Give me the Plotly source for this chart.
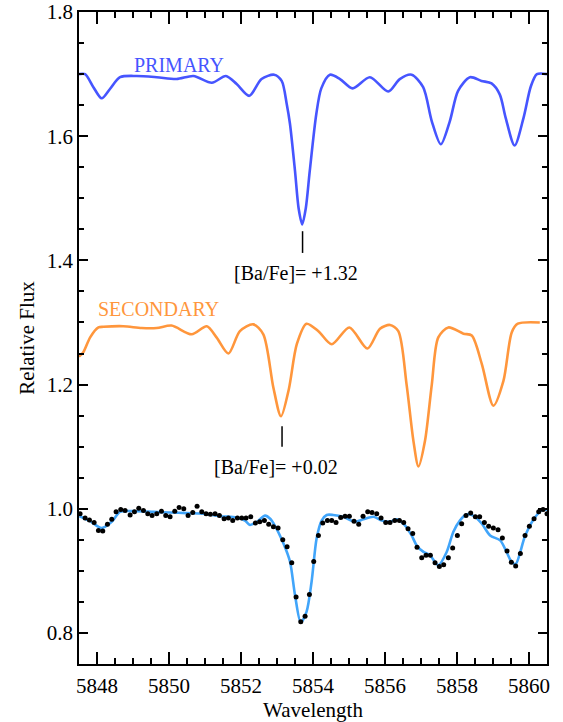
import plotly.graph_objects as go

# ---------------- data ----------------
prim_x = [5847.50, 5847.67, 5847.90, 5848.13, 5848.36, 5848.64, 5849.10, 5849.66, 5850.21, 5850.68,
          5851.19, 5851.58, 5851.88, 5852.23, 5852.57, 5852.92, 5853.13, 5853.27, 5853.36, 5853.50,
          5853.60, 5853.70, 5853.80, 5853.91, 5854.09, 5854.23, 5854.47, 5854.75, 5855.10, 5855.58,
          5856.09, 5856.41, 5856.74, 5857.06, 5857.30, 5857.55, 5857.80, 5858.03, 5858.36, 5858.68,
          5858.96, 5859.19, 5859.35, 5859.60, 5859.85, 5860.05, 5860.22, 5860.50]
prim_y = [1.700, 1.700, 1.679, 1.661, 1.676, 1.695, 1.697, 1.695, 1.692, 1.697,
          1.686, 1.697, 1.684, 1.665, 1.692, 1.699, 1.689, 1.652, 1.620, 1.544,
          1.484, 1.458, 1.484, 1.544, 1.635, 1.677, 1.699, 1.692, 1.677, 1.695,
          1.672, 1.692, 1.699, 1.679, 1.624, 1.587, 1.624, 1.673, 1.695, 1.689,
          1.685, 1.667, 1.630, 1.585, 1.630, 1.680, 1.700, 1.700]

sec_x = [5847.50, 5847.62, 5847.81, 5848.04, 5848.18, 5848.73, 5849.24, 5849.66, 5850.07, 5850.63,
         5851.05, 5851.32, 5851.65, 5851.97, 5852.34, 5852.62, 5852.90, 5853.11, 5853.33, 5853.55,
         5853.82, 5854.15, 5854.52, 5855.01, 5855.51, 5855.86, 5856.14, 5856.37, 5856.60, 5856.79,
         5856.93, 5857.11, 5857.30, 5857.48, 5857.76, 5858.18, 5858.41, 5858.69, 5859.01, 5859.29,
         5859.52, 5859.69, 5860.30]
sec_y = [1.245, 1.252, 1.276, 1.292, 1.293, 1.294, 1.291, 1.291, 1.295, 1.281,
         1.294, 1.276, 1.250, 1.286, 1.297, 1.281, 1.195, 1.149, 1.193, 1.265,
         1.298, 1.286, 1.265, 1.292, 1.258, 1.290, 1.296, 1.286, 1.200, 1.109,
         1.068, 1.109, 1.200, 1.276, 1.292, 1.282, 1.279, 1.233, 1.166, 1.206,
         1.284, 1.298, 1.300]

fit_x = [5847.51, 5847.81, 5848.13, 5848.41, 5848.64, 5849.10, 5849.56, 5850.03, 5850.49, 5850.95,
         5851.42, 5851.88, 5852.11, 5852.25, 5852.44, 5852.67, 5852.81, 5852.94, 5853.18, 5853.36,
         5853.50, 5853.66, 5853.82, 5853.96, 5854.10, 5854.24, 5854.38, 5854.56, 5854.84, 5855.17,
         5855.40, 5855.68, 5855.91, 5856.14, 5856.32, 5856.56, 5856.74, 5856.88, 5857.06, 5857.25,
         5857.48, 5857.71, 5857.90, 5858.08, 5858.27, 5858.45, 5858.69, 5858.92, 5859.20, 5859.38,
         5859.52, 5859.63, 5859.89, 5860.14, 5860.39, 5860.50]
fit_y = [0.988, 0.980, 0.969, 0.979, 0.995, 0.996, 0.995, 0.994, 0.993, 0.992,
         0.988, 0.986, 0.981, 0.974, 0.979, 0.989, 0.984, 0.973, 0.944, 0.915,
         0.861, 0.817, 0.834, 0.882, 0.952, 0.981, 0.990, 0.990, 0.987, 0.979,
         0.983, 0.987, 0.981, 0.979, 0.983, 0.973, 0.957, 0.941, 0.931, 0.925,
         0.909, 0.930, 0.963, 0.981, 0.991, 0.989, 0.976, 0.957, 0.949, 0.930,
         0.914, 0.911, 0.956, 0.984, 0.999, 0.998]

obs_x = [5847.53, 5847.67, 5847.79, 5847.92, 5848.04, 5848.16, 5848.29, 5848.41, 5848.53, 5848.66,
         5848.78, 5848.92, 5849.04, 5849.16, 5849.29, 5849.41, 5849.53, 5849.66, 5849.79, 5849.91,
         5850.03, 5850.16, 5850.28, 5850.41, 5850.53, 5850.66, 5850.78, 5850.91, 5851.03, 5851.15,
         5851.28, 5851.40, 5851.53, 5851.65, 5851.77, 5851.90, 5852.02, 5852.14, 5852.27, 5852.40,
         5852.52, 5852.65, 5852.77, 5852.90, 5853.03, 5853.16, 5853.28, 5853.41, 5853.53, 5853.66,
         5853.78, 5853.90, 5854.02, 5854.15, 5854.27, 5854.40, 5854.52, 5854.64, 5854.77, 5854.89,
         5855.01, 5855.14, 5855.27, 5855.39, 5855.52, 5855.64, 5855.77, 5855.89, 5856.02, 5856.14,
         5856.27, 5856.40, 5856.52, 5856.64, 5856.77, 5856.89, 5857.02, 5857.14, 5857.26, 5857.39,
         5857.51, 5857.63, 5857.76, 5857.88, 5858.01, 5858.13, 5858.25, 5858.38, 5858.51, 5858.63,
         5858.76, 5858.88, 5859.01, 5859.14, 5859.26, 5859.39, 5859.51, 5859.63, 5859.76, 5859.89,
         5860.01, 5860.14, 5860.27, 5860.39, 5860.50]
obs_y = [0.992, 0.985, 0.982, 0.978, 0.965, 0.964, 0.975, 0.983, 0.995, 0.999,
         0.997, 0.990, 0.995, 1.001, 0.997, 0.992, 0.989, 0.992, 0.996, 0.989,
         0.987, 0.996, 1.002, 1.000, 0.989, 0.994, 1.004, 0.995, 0.992, 0.991,
         0.992, 0.989, 0.984, 0.985, 0.981, 0.985, 0.985, 0.985, 0.987, 0.977,
         0.979, 0.981, 0.975, 0.971, 0.969, 0.950, 0.939, 0.913, 0.858, 0.818,
         0.827, 0.862, 0.915, 0.957, 0.977, 0.981, 0.981, 0.978, 0.986, 0.988,
         0.988, 0.980, 0.975, 0.988, 0.995, 0.994, 0.992, 0.985, 0.978, 0.978,
         0.981, 0.981, 0.978, 0.968, 0.960, 0.938, 0.921, 0.925, 0.925, 0.913,
         0.907, 0.910, 0.921, 0.937, 0.957, 0.976, 0.989, 0.993, 0.987, 0.987,
         0.978, 0.972, 0.969, 0.966, 0.953, 0.932, 0.914, 0.908, 0.928, 0.957,
         0.972, 0.984, 0.995, 0.999, 0.992]

# labels
star_labels = ["PRIMARY", "SECONDARY"]
star_label_x = [5850.28, 5849.70]
star_label_y = [1.714, 1.322]

ba_labels = ["[Ba/Fe]= +1.32", "[Ba/Fe]= +0.02"]
ba_tick_x = [5853.71, 5853.14]
ba_tick_y0 = [1.447, 1.133]
ba_tick_y1 = [1.412, 1.100]
ba_text_x = [5853.53, 5852.97]
ba_text_y = [1.380, 1.068]

# ---------------- styling ----------------
C_PRIM = "rgb(70,85,255)"
C_SEC = "rgb(255,150,60)"
C_FIT = "rgb(65,165,250)"
FONT = "'Liberation Serif', 'Times New Roman', 'DejaVu Serif', serif"

fig = go.Figure()
fig.add_trace(go.Scatter(x=prim_x, y=prim_y, mode="lines",
                         line=dict(color=C_PRIM, width=2.6, shape="spline", smoothing=0.8),
                         hoverinfo="skip"))
fig.add_trace(go.Scatter(x=sec_x, y=sec_y, mode="lines",
                         line=dict(color=C_SEC, width=2.6, shape="spline", smoothing=0.8),
                         hoverinfo="skip"))
fig.add_trace(go.Scatter(x=fit_x, y=fit_y, mode="lines",
                         line=dict(color=C_FIT, width=2.6, shape="spline", smoothing=0.8),
                         hoverinfo="skip"))
fig.add_trace(go.Scatter(x=obs_x, y=obs_y, mode="markers",
                         marker=dict(color="black", size=5, line=dict(width=0)),
                         hoverinfo="skip"))

for i in range(len(ba_labels)):
    fig.add_trace(go.Scatter(x=[ba_tick_x[i], ba_tick_x[i]], y=[ba_tick_y0[i], ba_tick_y1[i]],
                             mode="lines", line=dict(color="black", width=1.5), hoverinfo="skip"))
    fig.add_annotation(x=ba_text_x[i], y=ba_text_y[i], text=ba_labels[i], showarrow=False,
                       xref="x", yref="y", xanchor="center", yanchor="middle",
                       font=dict(family=FONT, size=20, color="black"))

for i, (lab, col) in enumerate(zip(star_labels, [C_PRIM, C_SEC])):
    fig.add_annotation(x=star_label_x[i], y=star_label_y[i], text=lab, showarrow=False,
                       xref="x", yref="y", xanchor="center", yanchor="middle",
                       font=dict(family=FONT, size=20, color=col))

axis_common = dict(showline=True, linecolor="black", linewidth=1.5, mirror="allticks",
                   ticks="inside", tickcolor="black", tickwidth=1.5, showgrid=False,
                   zeroline=False, automargin=False,
                   tickfont=dict(family=FONT, size=21, color="black"))

fig.update_xaxes(range=[5847.5, 5860.5], tick0=5848, dtick=2, ticklen=12,
                 ticklabelstandoff=2,
                 minor=dict(dtick=0.5, ticklen=6, ticks="inside", tickcolor="black", tickwidth=1.5),
                 title=dict(text="Wavelength", font=dict(family=FONT, size=21, color="black"), standoff=6),
                 **axis_common)
fig.update_yaxes(range=[0.75, 1.8], tick0=0.8, dtick=0.2, tickformat=".1f", ticklen=9,
                 minor=dict(dtick=0.05, ticklen=5, ticks="inside", tickcolor="black", tickwidth=1.5),
                 title=dict(text="Relative Flux", font=dict(family=FONT, size=21, color="black"), standoff=6),
                 **axis_common)

fig.update_layout(width=563, height=722, showlegend=False,
                  margin=dict(l=79, r=16, t=12, b=58),
                  paper_bgcolor="white", plot_bgcolor="white",
                  font=dict(family=FONT))

fig.write_html("out.html")
